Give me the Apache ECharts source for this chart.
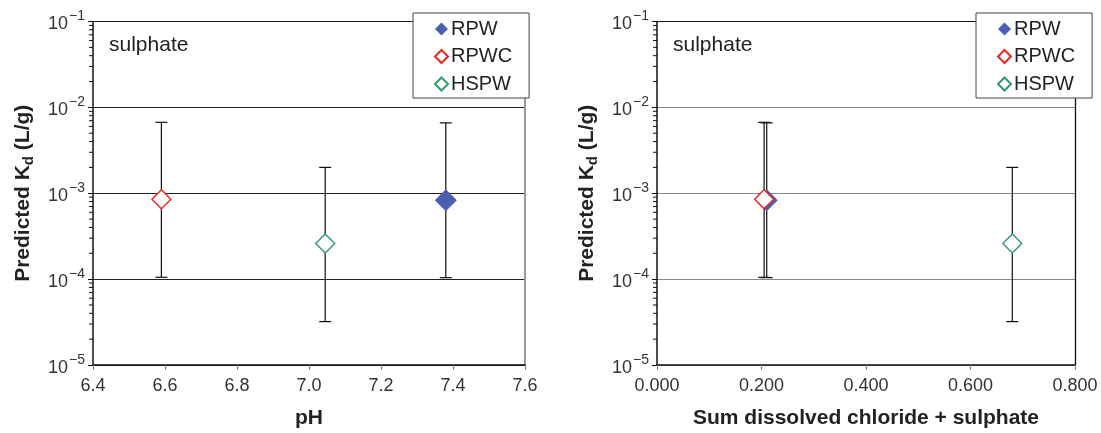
<!DOCTYPE html>
<html>
<head>
<meta charset="utf-8">
<script src="https://cdn.jsdelivr.net/npm/echarts@6/dist/echarts.min.js"></script>
<style>
html,body{margin:0;padding:0;background:#fff;}
#c{width:1101px;height:433px;}
</style>
</head>
<body>
<div id="c"></div>
<script>
// ---- data ----
var groups = ['RPW', 'RPWC', 'HSPW'];
var pH = [7.38, 6.59, 7.045];
var sumClSO4 = [0.21, 0.205, 0.68];
var kd = [8.3e-4, 8.5e-4, 2.6e-4];
var kdLow = [1.04e-4, 1.05e-4, 3.2e-5];
var kdHigh = [6.6e-3, 6.7e-3, 2.0e-3];
var pHTicks = [6.4, 6.6, 6.8, 7.0, 7.2, 7.4, 7.6];
var sumTicks = [0.0, 0.2, 0.4, 0.6, 0.8];
var kdTicks = [1e-5, 1e-4, 1e-3, 1e-2, 1e-1];
var minorKd = [];
[1e-5, 1e-4, 1e-3, 1e-2].forEach(function (d) { for (var k = 2; k <= 9; k++) minorKd.push(d * k); });

var FONT = '"Liberation Sans", Arial, sans-serif';
var colors = { RPW: '#4a5fb2', RPWC: '#e8261f', HSPW: '#2f9a6b' };
var styles = {
  RPW: { color: colors.RPW, borderColor: colors.RPW, borderWidth: 0, opacity: 1 },
  RPWC: { color: '#ffffff', borderColor: colors.RPWC, borderWidth: 1.4, opacity: 1 },
  HSPW: { color: '#ffffff', borderColor: colors.HSPW, borderWidth: 1.4, opacity: 1 }
};
var sizes = { RPW: 22, RPWC: 19, HSPW: 19 };

var chart = echarts.init(document.getElementById('c'), null, { renderer: 'canvas' });

function yLabel(v) {
  var n = Math.round(-Math.log10(v));
  return '{b|10}{s|\u2212' + n + '}';
}

var grids = [
  { left: 93, top: 21.5, width: 432, height: 343.5, outerBoundsMode: 'none', containLabel: false },
  { left: 657, top: 21.5, width: 418, height: 343.5, outerBoundsMode: 'none', containLabel: false }
];

function makeX(idx, ticks, name, decimals) {
  return {
    type: 'value', gridIndex: idx,
    min: ticks[0], max: ticks[ticks.length - 1], interval: ticks[1] - ticks[0],
    name: name, nameLocation: 'middle', nameGap: 43,
    nameTextStyle: { fontFamily: FONT, fontSize: 21, fontWeight: 'bold', color: '#222' },
    axisLine: { show: true, onZero: false, lineStyle: { color: '#111', width: 1.5 } },
    axisTick: { show: true, inside: false, length: 5, lineStyle: { color: '#888', width: 1.2 } },
    axisLabel: { fontFamily: FONT, fontSize: 18, color: '#333', margin: 12,
      formatter: function (v) { return v.toFixed(decimals); } },
    splitLine: { show: false }
  };
}
function makeTopBorder(idx, ticks, color) {
  return {
    type: 'value', gridIndex: idx, position: 'top',
    min: ticks[0], max: ticks[ticks.length - 1],
    axisLine: { show: true, onZero: false, lineStyle: { color: color, width: 1.2 } },
    axisTick: { show: false }, axisLabel: { show: false }, splitLine: { show: false }
  };
}
function makeY(idx, gridColor) {
  return {
    type: 'log', logBase: 10, gridIndex: idx, min: kdTicks[0], max: kdTicks[kdTicks.length - 1],
    name: '{m|Predicted K}{d|d}{m| (L/g)}', nameLocation: 'middle', nameGap: 57,
    nameTextStyle: { fontFamily: FONT, fontSize: 21, fontWeight: 'bold', color: '#222',
      rich: {
        m: { fontFamily: FONT, fontSize: 21, fontWeight: 'bold', color: '#222', lineHeight: 26, verticalAlign: 'middle' },
        d: { fontFamily: FONT, fontSize: 15, fontWeight: 'bold', color: '#222', lineHeight: 14, verticalAlign: 'bottom' }
      } },
    axisLine: { show: true, onZero: false, lineStyle: { color: '#111', width: 1.5 } },
    axisTick: { show: true, inside: false, length: 5, lineStyle: { color: '#111', width: 1 } },
    axisLabel: { formatter: yLabel, margin: 8,
      rich: {
        b: { fontFamily: FONT, fontSize: 18, color: '#333', lineHeight: 24, verticalAlign: 'bottom' },
        s: { fontFamily: FONT, fontSize: 14, color: '#333', lineHeight: 13, verticalAlign: 'top', padding: [0, 0, 0, 1] }
      } },
    splitLine: { show: true, lineStyle: { color: gridColor, width: 1 } }
  };
}
function makeRightBorder(idx, color) {
  return {
    type: 'log', logBase: 10, gridIndex: idx, position: 'right', min: kdTicks[0], max: kdTicks[kdTicks.length - 1],
    axisLine: { show: true, onZero: false, lineStyle: { color: color, width: idx === 0 ? 2 : 1.3 } },
    axisTick: { show: false }, axisLabel: { show: false }, splitLine: { show: false }
  };
}

var series = [];
function addPlot(idx, xs, xMin) {
  // minor log ticks
  series.push({
    type: 'custom', xAxisIndex: idx, yAxisIndex: idx * 2, silent: true, clip: false, z: 5,
    data: minorKd.map(function (v) { return [xMin, v]; }),
    renderItem: function (params, api) {
      var p = api.coord([api.value(0), api.value(1)]);
      return { type: 'line', shape: { x1: p[0] - 4, y1: p[1], x2: p[0], y2: p[1] },
        style: { stroke: '#111', lineWidth: 1 } };
    }
  });
  // error bars
  series.push({
    type: 'custom', xAxisIndex: idx, yAxisIndex: idx * 2, silent: true, z: 2,
    data: groups.map(function (g, i) { return [xs[i], kdLow[i], kdHigh[i]]; }),
    encode: { x: 0, y: [1, 2] },
    renderItem: function (params, api) {
      var hi = api.coord([api.value(0), api.value(2)]);
      var lo = api.coord([api.value(0), api.value(1)]);
      var w = 6;
      var st = { stroke: '#111', lineWidth: 1.2 };
      return { type: 'group', children: [
        { type: 'line', shape: { x1: hi[0], y1: hi[1], x2: lo[0], y2: lo[1] }, style: st },
        { type: 'line', shape: { x1: hi[0] - w, y1: hi[1], x2: hi[0] + w, y2: hi[1] }, style: st },
        { type: 'line', shape: { x1: lo[0] - w, y1: lo[1], x2: lo[0] + w, y2: lo[1] }, style: st }
      ] };
    }
  });
  groups.forEach(function (g, i) {
    series.push({
      name: g, type: 'scatter', xAxisIndex: idx, yAxisIndex: idx * 2, z: 10,
      symbol: 'diamond', symbolSize: sizes[g],
      itemStyle: styles[g],
      emphasis: { disabled: true },
      data: [[xs[i], kd[i]]]
    });
  });
}
addPlot(0, pH, pHTicks[0]);
addPlot(1, sumClSO4, sumTicks[0]);

function legend(left) {
  return {
    left: left, top: 13, orient: 'vertical', data: groups,
    backgroundColor: '#fff', borderColor: '#444', borderWidth: 1,
    padding: [6, 17, 4, 21], itemGap: 7.5, itemWidth: 13, itemHeight: 13,
    icon: 'diamond', selectedMode: false,
    textStyle: { fontFamily: FONT, fontSize: 20, color: '#222', padding: [0, 0, 0, -2] }
  };
}

chart.setOption({
  animation: false,
  backgroundColor: '#fff',
  title: [
    { text: 'sulphate', left: 109, top: 35, padding: 0, textStyle: { fontFamily: FONT, fontSize: 21, fontWeight: 'normal', color: '#222' } },
    { text: 'sulphate', left: 673, top: 35, padding: 0, textStyle: { fontFamily: FONT, fontSize: 21, fontWeight: 'normal', color: '#222' } }
  ],
  legend: [legend(413), legend(976)],
  grid: grids,
  xAxis: [makeX(0, pHTicks, 'pH', 1), makeTopBorder(0, pHTicks, '#222'),
          makeX(1, sumTicks, 'Sum dissolved chloride + sulphate', 3), makeTopBorder(1, sumTicks, '#111')],
  yAxis: [makeY(0, '#222'), makeRightBorder(0, '#999'), makeY(1, '#888'), makeRightBorder(1, '#111')],
  series: series.map(function (s) { s.xAxisIndex = s.xAxisIndex * 2; return s; })
});
</script>
</body>
</html>
